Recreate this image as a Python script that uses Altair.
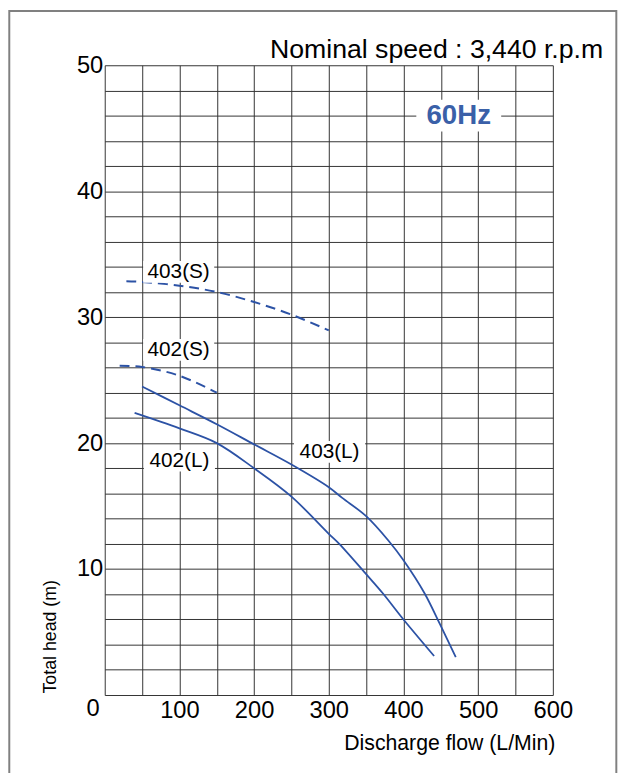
import altair as alt
import pandas as pd

# ---- curve data (Discharge flow L/Min, Total head m) ----
s403_x = [29, 50, 100, 150, 200, 250, 300]
s403_y = [32.85, 32.8, 32.5, 32.0, 31.2, 30.2, 28.95]
s402_x = [20, 50, 100, 150]
s402_y = [26.15, 26.05, 25.35, 24.0]
l403_x = [50, 100, 150, 200, 250, 300, 318, 350, 380, 400, 428, 449, 470]
l403_y = [24.5, 23.0, 21.5, 19.9, 18.3, 16.5, 15.65, 14.2, 12.25, 10.7, 8.1, 5.6, 3.0]
l402_x = [40, 100, 150, 200, 250, 300, 314, 350, 372, 400, 441]
l402_y = [22.4, 21.17, 20.0, 18.0, 15.75, 12.8, 12.0, 9.6, 8.1, 6.0, 3.1]

# ---- curve labels ----
lab_text = ["403(S)", "402(S)", "402(L)", "403(L)"]
lab_x = [99, 99, 100, 301]
lab_y = [33.6, 27.4, 18.6, 19.3]

hz_text = ["60Hz"]
hz_x = [474]
hz_y = [46]

x_ticks = list(range(0, 601, 50))
y_ticks = list(range(0, 51, 2))

FONT = "Liberation Sans"
BLUE = "#2C52A5"

def mk(xs, ys, name):
    return pd.DataFrame({"x": xs, "y": ys, "series": name})

dashed = pd.concat([mk(s403_x, s403_y, "403(S)"), mk(s402_x, s402_y, "402(S)")])
solid = pd.concat([mk(l403_x, l403_y, "403(L)"), mk(l402_x, l402_y, "402(L)")])
labels = pd.DataFrame({"x": lab_x, "y": lab_y, "t": lab_text})
hz = pd.DataFrame({"x": hz_x, "y": hz_y, "t": hz_text})
zero = pd.DataFrame({"x": [0], "y": [0], "t": ["0"]})
one = pd.DataFrame({"a": [0]})

xscale = alt.Scale(domain=[0, 600], nice=False, zero=False)
yscale = alt.Scale(domain=[0, 50], nice=False)

xaxis = alt.Axis(
    values=x_ticks,
    labelExpr="datum.value > 0 && datum.value % 100 == 0 ? datum.label : ''",
    grid=True, ticks=False, domain=False,
    labelFontSize=24, labelFont=FONT, labelColor="black", labelPadding=4,
    labelOverlap=False, labelFlush=False,
    title="Discharge flow (L/Min)", titleFont=FONT, titleFontSize=21.5,
    titleFontWeight="normal", titleColor="black",
    titleAlign="right", titleAnchor="end", titleX=456, titleY=55,
    titleBaseline="alphabetic",
    gridColor="#333333", gridWidth=1, gridOpacity=1,
)
yaxis = alt.Axis(
    values=y_ticks,
    labelExpr="datum.value > 0 && datum.value % 10 == 0 ? datum.label : ''",
    grid=True, ticks=False, domain=False,
    labelFontSize=24, labelFont=FONT, labelColor="black", labelPadding=2,
    labelOverlap=False, labelFlush=False,
    title="Total head (m)", titleFont=FONT, titleFontSize=18,
    titleFontWeight="normal", titleColor="black",
    titleAngle=270, titleAlign="left", titleBaseline="middle",
    titleX=-55, titleY=636,
    gridColor="#333333", gridWidth=1, gridOpacity=1,
)

X = alt.X("x:Q", scale=xscale, axis=xaxis)
Y = alt.Y("y:Q", scale=yscale, axis=yaxis)

frame = alt.Chart(one).mark_rect(fill="transparent", stroke="#808080", strokeWidth=2).encode(
    x=alt.value(-96.7), x2=alt.value(518.3), y=alt.value(-55), y2=alt.value(760)
)

dash_lines = alt.Chart(dashed).mark_line(
    color=BLUE, strokeWidth=2, strokeDash=[10, 6], interpolate="catmull-rom"
).encode(x=X, y=Y, detail="series:N")

solid_lines = alt.Chart(solid).mark_line(
    color=BLUE, strokeWidth=1.8, interpolate="catmull-rom"
).encode(x=X, y=Y, detail="series:N")

lab_box = alt.Chart(labels).mark_rect(fill="white", width=72, height=22).encode(x=X, y=Y)
lab_txt = alt.Chart(labels).mark_text(
    font=FONT, fontSize=21, color="black", align="center", baseline="middle"
).encode(x=X, y=Y, text="t:N")

hz_box = alt.Chart(hz).mark_rect(fill="white", width=86, height=32).encode(x=X, y=Y)
hz_txt = alt.Chart(hz).mark_text(
    font=FONT, fontSize=28, fontWeight="bold", color="#3A60A8", align="center", baseline="middle"
).encode(x=X, y=Y, text="t:N")

zero_txt = alt.Chart(zero).mark_text(
    font=FONT, fontSize=24, color="black", align="center", baseline="middle", dx=-11.7, dy=14
).encode(x=X, y=Y, text="t:N")

title_txt = alt.Chart(one).mark_text(
    font=FONT, fontSize=27, color="black", align="right", baseline="alphabetic"
).encode(x=alt.value(505), y=alt.value(-7), text=alt.value("Nominal speed : 3,440 r.p.m"))

chart = alt.layer(
    frame, dash_lines, solid_lines, lab_box, lab_txt, hz_box, hz_txt, zero_txt, title_txt
).properties(
    width=454, height=638,
    autosize=alt.AutoSizeParams(type="none"),
    padding={"left": 98, "top": 53, "right": 66, "bottom": 74},
    background="white",
).configure_view(stroke="transparent")

chart.save("out.html", embed_options={"renderer": "svg", "actions": False})
